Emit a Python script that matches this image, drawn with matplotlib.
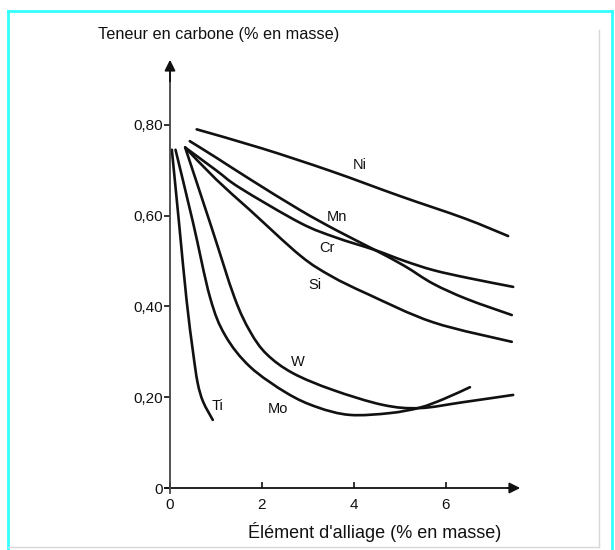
import matplotlib
matplotlib.use("Agg")
import matplotlib.pyplot as plt
from matplotlib.lines import Line2D
from matplotlib.path import Path
from matplotlib.patches import PathPatch

plt.rcParams['font.family'] = ['Liberation Sans', 'DejaVu Sans']

# Data (x: alloying element %, y: carbon %)
ni_x = [0.58, 2.00, 3.50, 5.00, 6.40, 7.35]
ni_y = [0.790, 0.748, 0.698, 0.643, 0.594, 0.555]

mn_x = [0.43, 1.00, 1.74, 2.83, 3.63, 4.46, 5.10, 5.72, 6.46, 7.43]
mn_y = [0.764, 0.728, 0.680, 0.612, 0.567, 0.524, 0.489, 0.450, 0.416, 0.381]

cr_x = [0.33, 1.00, 1.52, 2.83, 3.60, 4.46, 5.10, 5.72, 6.46, 7.46]
cr_y = [0.750, 0.700, 0.661, 0.584, 0.552, 0.524, 0.500, 0.480, 0.463, 0.443]

si_x = [0.33, 1.00, 1.74, 2.83, 3.50, 4.28, 5.72, 7.43]
si_y = [0.750, 0.680, 0.612, 0.512, 0.467, 0.428, 0.365, 0.322]

w_x = [0.33, 0.90, 1.40, 1.74, 2.10, 2.67, 3.54, 4.63, 5.43, 6.37, 7.46]
w_y = [0.750, 0.575, 0.420, 0.345, 0.295, 0.253, 0.216, 0.183, 0.176, 0.189, 0.205]

mo_x = [0.12, 0.50, 0.87, 1.20, 1.74, 2.54, 3.20, 3.91, 4.78, 5.43, 5.95, 6.52]
mo_y = [0.745, 0.585, 0.420, 0.336, 0.267, 0.209, 0.178, 0.161, 0.165, 0.177, 0.196, 0.222]

ti_x = [0.04, 0.20, 0.36, 0.50, 0.60, 0.72, 0.93]
ti_y = [0.745, 0.580, 0.414, 0.300, 0.232, 0.190, 0.150]

labels = ["Ni", "Mn", "Cr", "Si", "W", "Mo", "Ti"]
label_x = [4.13, 3.63, 3.41, 3.15, 2.78, 2.35, 1.04]
label_y = [0.711, 0.597, 0.529, 0.447, 0.278, 0.174, 0.181]

x_ticks = [0, 2, 4, 6]
x_ticklabels = ["0", "2", "4", "6"]
y_ticks = [0, 0.2, 0.4, 0.6, 0.8]
y_ticklabels = ["0", "0,20", "0,40", "0,60", "0,80"]


def smooth_path(xs, ys):
    """Catmull-Rom curve through the read points, as cubic Bezier segments."""
    pts = list(zip(xs, ys))
    n = len(pts)
    verts = [pts[0]]
    codes = [Path.MOVETO]
    for i in range(n - 1):
        p0 = pts[i - 1] if i > 0 else pts[i]
        p1 = pts[i]
        p2 = pts[i + 1]
        p3 = pts[i + 2] if i + 2 < n else pts[i + 1]
        c1 = (p1[0] + (p2[0] - p0[0]) / 6, p1[1] + (p2[1] - p0[1]) / 6)
        c2 = (p2[0] - (p3[0] - p1[0]) / 6, p2[1] - (p3[1] - p1[1]) / 6)
        verts += [c1, c2, p2]
        codes += [Path.CURVE4] * 3
    return Path(verts, codes)


W, H = 615, 550
fig = plt.figure(figsize=(W / 100, H / 100), dpi=100)

# frame decoration
fig.add_artist(Line2D([8 / W, 612 / W], [1 - 11 / H, 1 - 11 / H], color='#33ffff', lw=2))
fig.add_artist(Line2D([8 / W, 8 / W], [1 - 11 / H, 0], color='#33ffff', lw=2))
fig.add_artist(Line2D([612 / W, 612 / W], [1 - 11 / H, 0], color='#33ffff', lw=2))
fig.add_artist(Line2D([599 / W, 599 / W], [1 - 30 / H, 3 / H], color='#d8d8d8', lw=1))
fig.add_artist(Line2D([8 / W, 599 / W], [3 / H, 3 / H], color='#d8d8d8', lw=1))

x0, y0 = 170, 488
xmax_px, ymax_px = 523, 57
ax = fig.add_axes([x0 / W, 1 - y0 / H, (xmax_px - x0) / W, (y0 - ymax_px) / H])
xmax = (xmax_px - x0) / 46.0
ymax = (y0 - ymax_px) / 454.0
ax.set_xlim(0, xmax)
ax.set_ylim(0, ymax)
ax.patch.set_alpha(0)
for s in ax.spines.values():
    s.set_visible(False)

ink = '#111111'
# axes lines with arrows
ax.plot([-0.1, xmax - 0.3], [0, 0], color=ink, lw=1.3, clip_on=False)
ax.plot([0, 0], [-0.012, ymax - 0.03], color='#444444', lw=1.3, clip_on=False)
ax.annotate('', xy=(xmax, 0), xytext=(xmax - 0.4, 0),
            arrowprops=dict(arrowstyle='-|>', color=ink, lw=1.3, mutation_scale=16),
            annotation_clip=False)
ax.annotate('', xy=(0, ymax), xytext=(0, ymax - 0.06),
            arrowprops=dict(arrowstyle='-|>', color=ink, lw=1.3, mutation_scale=16),
            annotation_clip=False)

ax.set_xticks(x_ticks)
ax.set_xticklabels(x_ticklabels)
ax.set_yticks(y_ticks)
ax.set_yticklabels(y_ticklabels)
ax.tick_params(axis='x', direction='in', length=4, width=1.2, pad=7, labelsize=11, colors=ink)
ax.tick_params(axis='y', direction='out', length=4, width=1.2, pad=1, labelsize=11, colors=ink)

series = [(ni_x, ni_y), (mn_x, mn_y), (cr_x, cr_y), (si_x, si_y),
          (w_x, w_y), (mo_x, mo_y), (ti_x, ti_y)]
for xs, ys in series:
    ax.add_patch(PathPatch(smooth_path(xs, ys), facecolor='none', edgecolor=ink,
                           lw=1.9, capstyle='round', joinstyle='round'))

for lab, lx, ly in zip(labels, label_x, label_y):
    ax.text(lx, ly, lab, ha='center', va='center', fontsize=10.5, color=ink)

fig.text(98 / W, 1 - 35 / H, "Teneur en carbone (% en masse)", ha='left', va='center',
         fontsize=11.7, color=ink)
fig.text(375 / W, 1 - 532 / H, "Élément d'alliage (% en masse)", ha='center', va='center',
         fontsize=13, color=ink)

fig.savefig("out.png", dpi=100)
